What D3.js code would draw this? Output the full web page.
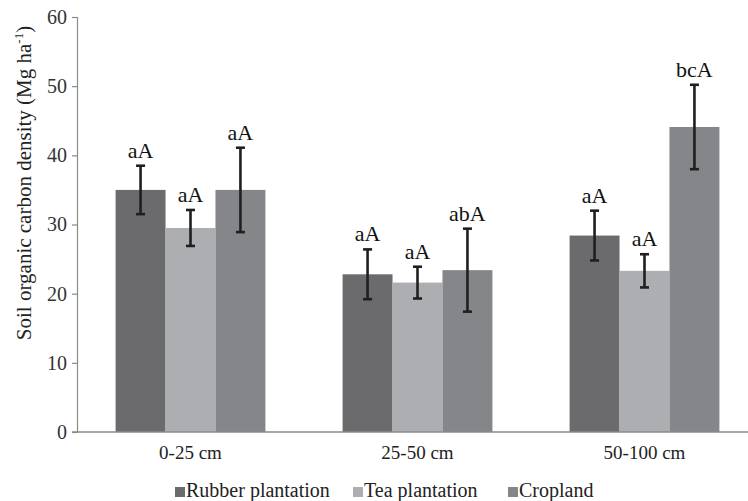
<!DOCTYPE html>
<html>
<head>
<meta charset="utf-8">
<script src="https://cdn.jsdelivr.net/npm/d3@7/dist/d3.min.js"></script>
<style>
  body { margin: 0; background: #fff; }
  svg { display: block; font-family: "Liberation Serif", "Times New Roman", serif; }
</style>
</head>
<body>
<svg id="chart" width="748" height="501"></svg>
<script>
const categories = ["0-25 cm", "25-50 cm", "50-100 cm"];
const seriesNames = ["Rubber plantation", "Tea plantation", "Cropland"];
const rubberValues = [35.0, 22.8, 28.4];
const teaValues = [29.5, 21.6, 23.3];
const croplandValues = [35.0, 23.4, 44.1];
const rubberErrors = [3.5, 3.6, 3.6];
const teaErrors = [2.6, 2.3, 2.4];
const croplandErrors = [6.1, 6.0, 6.1];
const rubberLetters = ["aA", "aA", "aA"];
const teaLetters = ["aA", "aA", "aA"];
const croplandLetters = ["aA", "abA", "bcA"];
const yTicks = [0, 10, 20, 30, 40, 50, 60];
const colors = ["#6b6b6d", "#adaeb2", "#85868a"];

const seriesValues = [rubberValues, teaValues, croplandValues];
const seriesErrors = [rubberErrors, teaErrors, croplandErrors];
const seriesLetters = [rubberLetters, teaLetters, croplandLetters];

const svg = d3.select("#chart");
const x0 = d3.scaleBand().domain(categories).range([77, 758]).paddingInner(0.34).paddingOuter(0.17);
const x1 = d3.scaleBand().domain(seriesNames).range([0, x0.bandwidth()]).padding(0);
const y = d3.scaleLinear().domain([0, 60]).range([432, 17]);

// y axis
const yAxis = svg.append("g").attr("transform", "translate(77,0)")
  .call(d3.axisLeft(y).tickValues(yTicks).tickSize(5).tickPadding(5));
yAxis.attr("font-family", "Liberation Serif, serif");
yAxis.select(".domain").attr("stroke", "#8a8a8a").attr("stroke-width", 1.2);
yAxis.selectAll(".tick line").attr("stroke", "#8a8a8a").attr("stroke-width", 1.2);
yAxis.selectAll(".tick text").attr("font-size", 20).attr("fill", "#333");

// bars
const data = [];
categories.forEach((c, i) => {
  seriesNames.forEach((s, j) => {
    data.push({ cat: c, ser: s, j, v: seriesValues[j][i], e: seriesErrors[j][i], l: seriesLetters[j][i] });
  });
});

const g = svg.append("g");
g.selectAll("rect.bar").data(data).enter().append("rect")
  .attr("class", "bar")
  .attr("x", d => x0(d.cat) + x1(d.ser))
  .attr("width", x1.bandwidth())
  .attr("y", d => y(d.v))
  .attr("height", d => y(0) - y(d.v))
  .attr("fill", d => colors[d.j]);

// x axis
const xAxis = svg.append("g").attr("transform", "translate(0,432)")
  .call(d3.axisBottom(x0).tickSize(0).tickPadding(14));
xAxis.attr("font-family", "Liberation Serif, serif");
xAxis.select(".domain").attr("stroke", "#8a8a8a").attr("stroke-width", 1.5)
  .attr("d", "M72,0H748");
xAxis.selectAll(".tick text").attr("font-size", 19).attr("fill", "#222");

// error bars
const eb = svg.append("g").attr("stroke", "#1f1f1f").attr("stroke-width", 2.6);
data.forEach(d => {
  const cx = x0(d.cat) + x1(d.ser) + x1.bandwidth() / 2;
  eb.append("line").attr("x1", cx).attr("x2", cx).attr("y1", y(d.v + d.e)).attr("y2", y(d.v - d.e));
  eb.append("line").attr("x1", cx - 4.5).attr("x2", cx + 4.5).attr("y1", y(d.v + d.e)).attr("y2", y(d.v + d.e));
  eb.append("line").attr("x1", cx - 4.5).attr("x2", cx + 4.5).attr("y1", y(d.v - d.e)).attr("y2", y(d.v - d.e));
});

// letters
svg.append("g").selectAll("text").data(data).enter().append("text")
  .attr("x", d => x0(d.cat) + x1(d.ser) + x1.bandwidth() / 2)
  .attr("y", d => y(d.v + d.e) - 8)
  .attr("text-anchor", "middle")
  .attr("font-size", 22)
  .attr("fill", "#111")
  .text(d => d.l);

// y title
const yt = svg.append("text")
  .attr("transform", "translate(31,183) rotate(-90)")
  .attr("text-anchor", "middle")
  .attr("font-size", 21)
  .attr("fill", "#222");
yt.append("tspan").text("Soil organic carbon density (Mg ha");
yt.append("tspan").attr("dy", -8).attr("font-size", 13).text("-1");
yt.append("tspan").attr("dy", 8).text(")");

// legend
const legendX = [175, 353, 508];
const leg = svg.append("g");
seriesNames.forEach((s, j) => {
  leg.append("rect").attr("x", legendX[j]).attr("y", 487).attr("width", 10).attr("height", 10).attr("fill", colors[j]);
  leg.append("text").attr("x", legendX[j] + 11).attr("y", 497).attr("font-size", 20).attr("fill", "#222").text(s);
});
</script>
</body>
</html>
